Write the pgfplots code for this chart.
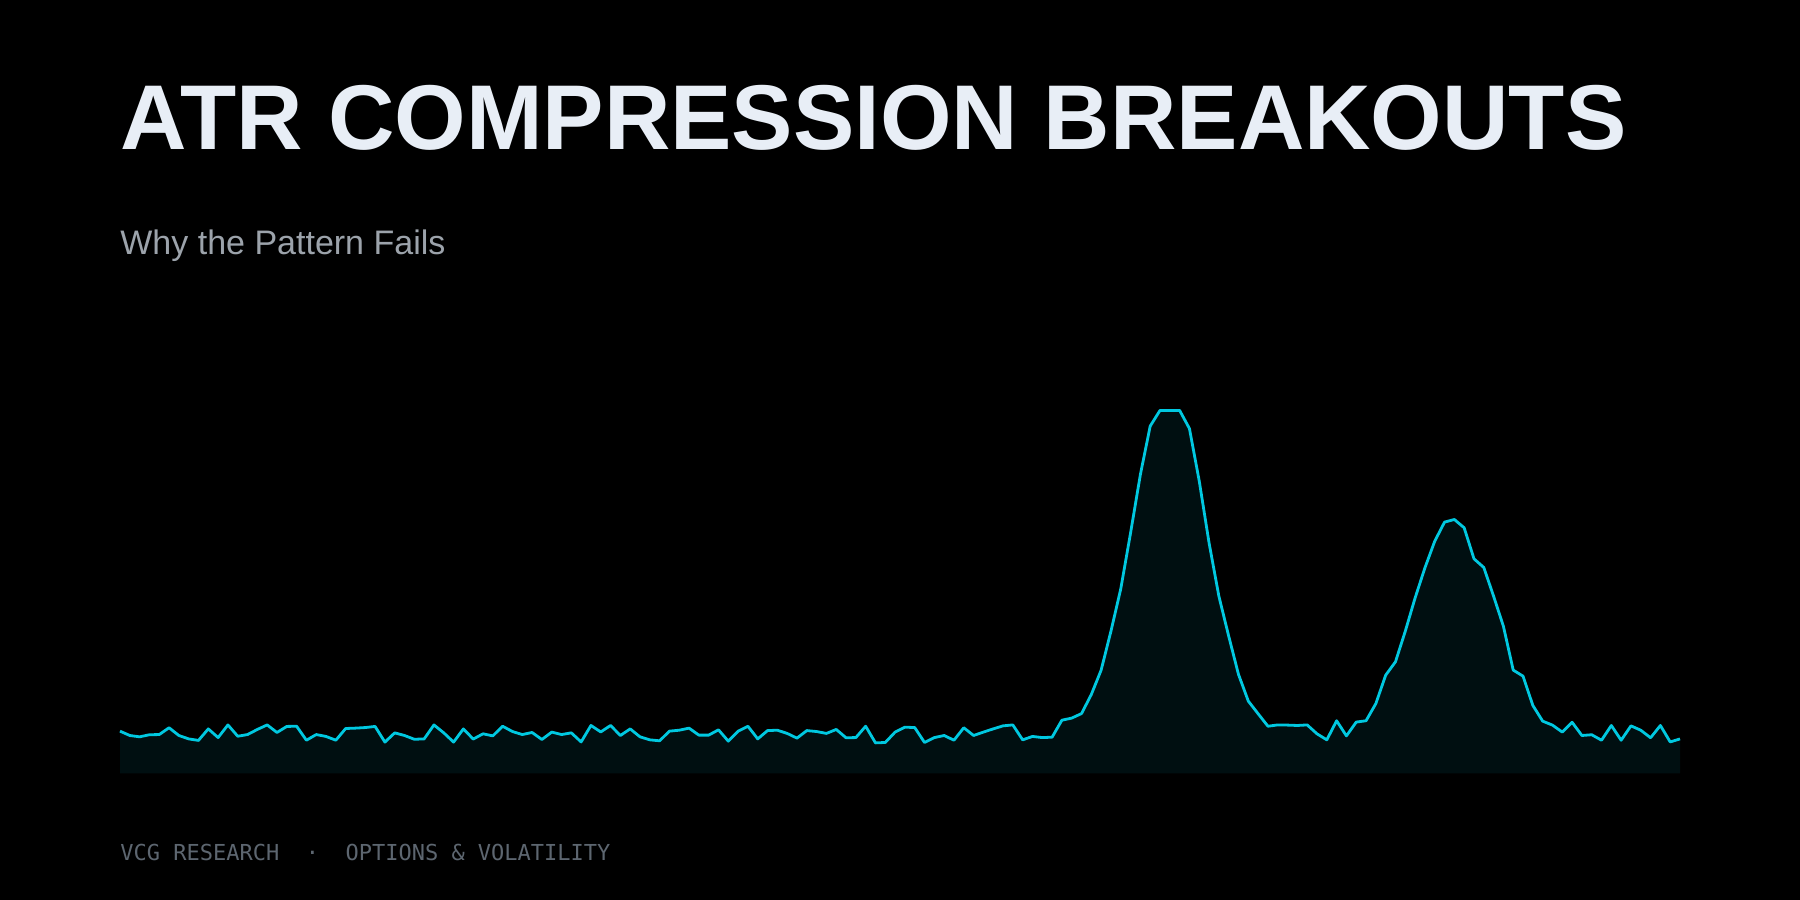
\documentclass[border=0pt]{standalone}
\usepackage{pgfplots}
\pgfplotsset{compat=1.18}
\usepackage{pgfplotstable}
\usepackage{fontspec}
\setmainfont{Liberation Sans}
\newfontfamily\monofont{DejaVu Sans Mono}
\definecolor{bgc}{HTML}{000000}
\definecolor{linec}{HTML}{00C8E0}
\definecolor{titlec}{HTML}{E8EEF6}
\definecolor{subc}{HTML}{9CA3AB}
\definecolor{footc}{HTML}{5D6670}
\definecolor{gridc}{HTML}{1E3329}

\pgfplotstableread{
i v
0 0.723
1 0.700
2 0.693
3 0.704
4 0.705
5 0.741
6 0.700
7 0.682
8 0.674
9 0.735
10 0.689
11 0.756
12 0.696
13 0.705
14 0.732
15 0.756
16 0.716
17 0.748
18 0.749
19 0.675
20 0.705
21 0.695
22 0.675
23 0.737
24 0.739
25 0.742
26 0.748
27 0.665
28 0.714
29 0.700
30 0.680
31 0.682
32 0.756
33 0.714
34 0.665
35 0.735
36 0.681
37 0.709
38 0.698
39 0.749
40 0.721
41 0.705
42 0.716
43 0.679
44 0.718
45 0.705
46 0.714
47 0.666
48 0.753
49 0.719
50 0.753
51 0.700
52 0.735
53 0.693
54 0.677
55 0.672
56 0.723
57 0.728
58 0.739
59 0.702
60 0.702
61 0.730
62 0.670
63 0.723
64 0.749
65 0.682
66 0.726
67 0.728
68 0.711
69 0.686
70 0.726
71 0.721
72 0.711
73 0.732
74 0.688
75 0.689
76 0.749
77 0.661
78 0.663
79 0.718
80 0.744
81 0.742
82 0.663
83 0.689
84 0.700
85 0.675
86 0.741
87 0.700
88 0.718
89 0.735
90 0.751
91 0.756
92 0.677
93 0.695
94 0.689
95 0.691
96 0.781
97 0.792
98 0.816
99 0.917
100 1.046
101 1.252
102 1.476
103 1.772
104 2.081
105 2.337
106 2.420
107 2.420
108 2.420
109 2.324
110 2.046
111 1.719
112 1.437
113 1.226
114 1.023
115 0.882
116 0.815
117 0.749
118 0.756
119 0.755
120 0.753
121 0.756
122 0.709
123 0.677
124 0.778
125 0.698
126 0.771
127 0.778
128 0.869
129 1.019
130 1.090
131 1.252
132 1.428
133 1.587
134 1.728
135 1.829
136 1.843
137 1.799
138 1.635
139 1.589
140 1.437
141 1.278
142 1.046
143 1.014
144 0.859
145 0.776
146 0.755
147 0.718
148 0.770
149 0.700
150 0.704
151 0.675
152 0.753
153 0.675
154 0.751
155 0.728
156 0.688
157 0.753
158 0.666
159 0.682
}\atrdata

\begin{document}
\begin{tikzpicture}
\fill[bgc] (0,0) rectangle (900bp,450bp);
\useasboundingbox (0,0) rectangle (900bp,450bp);
\begin{axis}[
  at={(60bp,63.35bp)}, anchor=south west,
  scale only axis, width=780bp, height=236.25bp,
  xmin=0, xmax=159, ymin=0.5, ymax=3,
  axis lines=none,
  xtick=\empty, ytick={1,2},
  ymajorgrids, grid style={gridc, line width=0.7bp, dash pattern=on 1bp off 1bp},
  clip=false,
]
\addplot[draw=none, fill=linec, fill opacity=0.08] table[x=i,y=v]{\atrdata} \closedcycle;
\addplot[linec, line width=1.4bp, line join=round, mark=none] table[x=i,y=v]{\atrdata};
\end{axis}
\node[anchor=base west, inner sep=0, text=titlec, font=\fontsize{46bp}{50bp}\selectfont\bfseries] at (60bp,375bp) {ATR COMPRESSION BREAKOUTS};
\node[anchor=base west, inner sep=0, text=subc, font=\fontsize{17bp}{20bp}\selectfont] at (60bp,322.5bp) {Why the Pattern Fails};
\node[anchor=base west, inner sep=0, text=footc, font=\monofont\fontsize{11bp}{13bp}\selectfont] at (60bp,20bp) {VCG RESEARCH\ \ ·\ \ OPTIONS \& VOLATILITY};
\end{tikzpicture}
\end{document}
